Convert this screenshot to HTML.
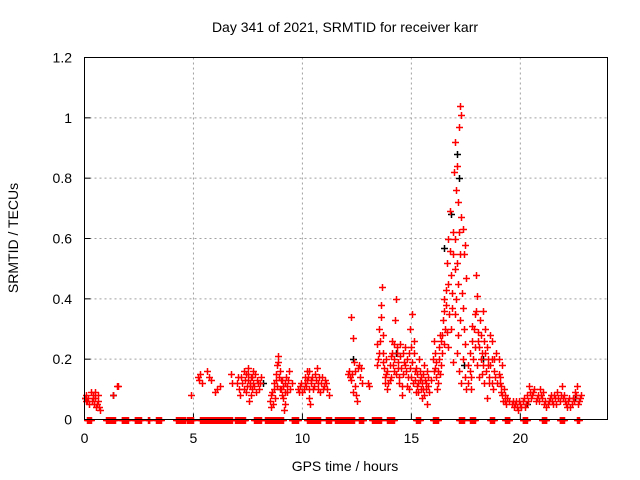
<!DOCTYPE html>
<html><head><meta charset="utf-8"><style>
body{margin:0;background:#fff;}
svg{display:block;font-family:"Liberation Sans",sans-serif;}
</style></head><body>
<svg id="chart" width="640" height="480" viewBox="0 0 640 480">
<text x="345" y="32" font-size="14" text-anchor="middle">Day 341 of 2021, SRMTID for receiver karr</text>
<text x="345" y="471" font-size="14" text-anchor="middle">GPS time / hours</text>
<text transform="translate(18,238) rotate(-90)" font-size="14" text-anchor="middle">SRMTID / TECUs</text>
<g id="grid"></g>
<g id="ticks"></g>
<g id="black"></g>
<g id="red"></g>
<rect x="84.5" y="57.5" width="523" height="362" fill="none" stroke="#000" stroke-width="1"/>
</svg>
<script>
const xTicks=[0,5,10,15,20];
const yTicks=[0,0.2,0.4,0.6,0.8,1,1.2];
const yTickLabels=["0","0.2","0.4","0.6","0.8","1","1.2"];
const redT=[0.0,0.05,0.1,0.15,0.3,0.35,0.4,0.45,0.5,0.55,0.6,0.65,0.7,1.3,1.5,1.55,
4.9,5.2,5.25,5.3,5.4,5.6,5.7,5.8,6.0,6.1,6.2,6.7,6.75,
7.0,7.1,7.2,7.3,7.35,7.4,7.5,7.6,7.65,7.7,7.8,7.9,8.0,8.1,7.45,7.55,7.75,
8.5,8.55,8.6,8.7,8.75,8.8,8.85,8.9,8.95,9.0,9.05,9.1,9.2,9.25,9.3,9.4,9.5,8.65,9.15,
9.8,9.9,10.0,10.1,10.2,10.25,10.3,10.4,10.5,10.6,10.7,10.8,10.9,11.0,11.1,11.2,10.35,10.65,
12.1,12.2,12.25,12.3,12.35,12.4,12.45,12.5,12.6,12.7,12.75,13.0,13.05,
13.4,13.45,13.5,13.6,13.65,13.7,13.75,13.8,13.85,13.9,14.0,14.05,14.1,14.15,14.2,14.25,14.3,14.35,14.4,14.45,14.5,14.55,14.6,14.65,
14.7,14.8,14.9,14.95,15.0,15.05,15.1,15.15,15.2,15.3,15.35,15.4,15.5,15.55,15.6,15.65,15.7,15.75,15.8,
15.9,16.0,16.05,16.1,16.2,16.25,16.3,16.4,16.45,16.5,16.55,16.6,16.65,16.7,16.75,16.8,16.85,16.9,16.95,17.0,17.05,17.1,17.15,17.2,17.25,17.28,17.3,17.35,17.4,17.45,17.5,17.05,17.15,17.25,17.35,17.45,17.5,16.7,16.9,17.0,
17.6,17.7,17.8,17.9,17.95,18.0,18.05,18.1,18.15,18.2,18.25,18.3,18.35,18.4,18.5,18.55,18.6,18.7,18.75,18.8,17.75,18.45,
18.9,19.0,19.05,19.1,19.15,19.2,19.3,19.35,19.4,19.5,
19.6,19.7,19.8,19.9,20.0,20.1,20.2,20.3,20.4,20.5,20.6,20.7,20.8,20.9,21.0,21.1,21.2,21.3,21.4,21.5,21.6,21.7,21.8,21.9,22.0,22.1,22.2,22.3,22.4,22.5,22.6,22.7,22.8,
0.08,0.2,0.38,0.48,0.58,0.62,
7.05,7.15,7.25,7.32,7.42,7.48,7.52,7.58,7.62,7.68,7.72,7.82,7.88,7.95,8.05,
8.58,8.68,8.78,8.82,8.88,8.92,8.98,9.02,9.08,9.12,9.18,9.22,9.28,9.35,9.45,
9.85,9.95,10.05,10.12,10.18,10.22,10.28,10.32,10.38,10.45,10.55,10.62,10.72,10.78,10.85,10.95,11.05,11.15,
12.15,12.22,12.28,12.32,12.42,12.55,12.65,
13.42,13.52,13.55,13.62,13.68,13.72,13.78,13.82,13.88,13.95,14.02,14.08,14.12,14.18,14.22,14.28,14.32,14.38,14.42,14.48,14.52,14.58,14.62,
14.72,14.75,14.82,14.85,14.88,14.92,14.98,15.02,15.08,15.12,15.18,15.22,15.25,15.28,15.32,15.38,15.42,15.45,15.48,15.52,15.58,15.62,15.68,15.72,15.78,
16.02,16.08,16.12,16.15,16.18,16.22,16.28,16.32,16.35,16.38,16.42,16.48,16.52,16.58,16.62,16.68,16.72,16.78,16.82,16.88,16.92,16.98,17.02,17.08,17.12,17.18,17.22,17.32,17.38,17.42,17.48,17.08,17.18,17.28,
17.62,17.68,17.72,17.78,17.82,17.88,17.92,17.98,18.02,18.08,18.12,18.18,18.22,18.28,18.32,18.38,18.42,18.48,18.52,18.58,18.62,18.68,18.72,18.78,18.85,
18.95,19.02,19.08,19.12,19.18,19.25,19.28,
19.65,19.75,19.85,19.95,20.05,20.15,20.25,20.35,20.45,20.55,20.65,20.75,20.85,20.95,21.05,21.15,21.25,21.35,21.45,21.55,21.65,21.75,21.85,21.95,22.05,22.15,22.25,22.35,22.45,22.55,22.65,22.75];
const redV=[.07,.08,.06,.07,.09,.06,.08,.05,.07,.04,.06,.04,.03,.08,.11,.11,
.08,.14,.13,.15,.12,.16,.14,.13,.09,.10,.11,.15,.12,
.12,.10,.14,.16,.13,.09,.15,.12,.08,.14,.11,.13,.10,.14,.11,.06,.16,
.06,.04,.09,.12,.07,.15,.18,.21,.10,.13,.08,.11,.05,.14,.09,.16,.12,.05,.03,
.10,.11,.09,.12,.16,.14,.07,.13,.10,.15,.12,.09,.14,.11,.12,.08,.05,.17,
.15,.14,.34,.27,.19,.11,.08,.06,.18,.17,.12,.12,.11,
.25,.20,.30,.38,.44,.22,.17,.12,.15,.10,.13,.21,.26,.18,.16,.33,.40,.22,.17,.12,.25,.08,.15,.19,
.18,.11,.22,.30,.14,.35,.26,.16,.09,.12,.20,.13,.07,.10,.18,.12,.05,.14,.09,
.13,.20,.26,.17,.12,.24,.28,.22,.33,.40,.30,.43,.52,.60,.69,.48,.37,.55,.82,.92,.76,.84,.72,.97,1.04,1.01,.67,.63,.55,.58,.47,.40,.28,.33,.20,.14,.10,.24,.19,.35,
.12,.16,.31,.35,.48,.41,.29,.24,.33,.20,.15,.36,.26,.22,.18,.12,.28,.20,.10,.16,.10,.07,
.22,.15,.12,.09,.18,.06,.08,.05,.07,.06,
.05,.04,.06,.03,.05,.06,.04,.08,.11,.07,.09,.06,.08,.10,.07,.05,.04,.06,.08,.05,.07,.09,.06,.11,.08,.05,.06,.04,.07,.09,.11,.06,.08,
.06,.05,.07,.09,.05,.08,
.14,.08,.12,.10,.15,.13,.17,.11,.14,.10,.12,.15,.09,.12,.12,
.08,.10,.13,.11,.19,.14,.16,.10,.13,.07,.12,.09,.11,.13,.10,
.09,.12,.10,.14,.11,.13,.10,.16,.12,.14,.11,.13,.10,.14,.12,.10,.13,.10,
.16,.13,.15,.09,.16,.17,.14,
.18,.22,.26,.34,.28,.19,.14,.20,.16,.12,.18,.14,.22,.25,.20,.15,.24,.19,.14,.21,.17,.11,.22,
.24,.16,.20,.14,.10,.17,.24,.19,.12,.22,.13,.17,.11,.15,.09,.16,.10,.14,.12,.15,.08,.13,.10,.16,.11,
.16,.22,.14,.19,.10,.16,.20,.15,.26,.18,.28,.36,.25,.38,.29,.45,.35,.56,.30,.42,.62,.50,.60,.52,.45,.62,.55,.42,.37,.30,.25,.22,.16,.12,
.18,.22,.14,.26,.20,.30,.24,.36,.18,.26,.14,.28,.22,.18,.12,.30,.16,.24,.20,.14,.18,.26,.12,.20,.14,
.12,.20,.14,.11,.08,.10,.06,
.06,.05,.04,.06,.04,.07,.05,.06,.09,.08,.10,.07,.06,.08,.09,.06,.05,.07,.06,.08,.05,.07,.08,.07,.06,.04,.07,.05,.06,.08,.05,.07];
const blackT=[0.02,1.3,8.2,12.3,14.3,16.5,16.8,17.1,17.2,17.4,18.3,20.3,22.5];
const blackV=[.07,.08,.12,.20,.22,.57,.68,.88,.80,.18,.20,.05,.07];
const zeroStart=[0.1,1.0,1.7,2.3,2.9,3.3,4.2,4.7,5.3,6.9,7.8,8.3,9.5,10.2,11.1,11.5,12.6,13.2,13.9,15.2,16.0,17.2,17.7,18.6,19.3,20.1,21.0,21.8,22.6];
const zeroEnd=[0.3,1.4,2.0,2.6,3.0,3.5,4.6,5.0,6.8,7.4,8.1,9.1,9.8,10.8,11.3,12.4,12.8,13.6,14.2,15.4,16.2,17.4,17.9,18.8,19.5,20.3,21.2,22.0,22.7];

const X0=84.5,X1=607.5,Y0=419.5,Y1=57.5;
const xS=t=>X0+t/24*(X1-X0);
const yS=v=>Y0-v/1.2*(Y0-Y1);
const NS="http://www.w3.org/2000/svg";
const grid=document.getElementById('grid'),ticks=document.getElementById('ticks');
function mk(tag,parent){const e=document.createElementNS(NS,tag);parent.appendChild(e);return e;}
xTicks.forEach(t=>{
  const x=xS(t);
  if(t>0){const l=mk('line',grid);l.setAttribute('x1',x);l.setAttribute('x2',x);l.setAttribute('y1',Y1);l.setAttribute('y2',Y0);l.setAttribute('stroke','#a0a0a0');l.setAttribute('stroke-dasharray','2,3');
  
  }
  const k=mk('line',grid);k.setAttribute('x1',x);k.setAttribute('x2',x);k.setAttribute('y1',Y0);k.setAttribute('y2',Y0-6);k.setAttribute('stroke','#000');
  const tx=mk('text',ticks);tx.setAttribute('x',x);tx.setAttribute('y',443);tx.setAttribute('font-size','14');tx.setAttribute('text-anchor','middle');tx.textContent=t;
  
  
});
yTicks.forEach((v,i)=>{
  const y=yS(v);
  if(v>0&&v<1.2){const l=mk('line',grid);l.setAttribute('x1',X0);l.setAttribute('x2',X1);l.setAttribute('y1',y);l.setAttribute('y2',y);l.setAttribute('stroke','#a0a0a0');l.setAttribute('stroke-dasharray','2,3');
  
  }
  const k=mk('line',grid);k.setAttribute('x1',X0);k.setAttribute('x2',X0+6);k.setAttribute('y1',y);k.setAttribute('y2',y);k.setAttribute('stroke','#000');
  const tx=mk('text',ticks);tx.setAttribute('x',72);tx.setAttribute('y',y+5);tx.setAttribute('font-size','14');tx.setAttribute('text-anchor','end');tx.textContent=yTickLabels[i];
  
  
});
function plus(g,t,v,c){
  const x=Math.round(xS(t))+0.5,y=Math.round(yS(v))+0.5;
  const p=mk('path',g);p.setAttribute('d',`M${x-3.5},${y}H${x+3.5}M${x},${y-3.5}V${y+3.5}`);p.setAttribute('stroke',c);p.setAttribute('stroke-width','1.5');
  
  
}
const bg=document.getElementById('black'),rg=document.getElementById('red');
blackT.forEach((t,i)=>plus(bg,t,blackV[i],'#000'));
redT.forEach((t,i)=>plus(rg,t,redV[i],'#ff0000'));
zeroStart.forEach((s,i)=>{for(let t=s;t<=zeroEnd[i]+1e-6;t+=0.04)plus(rg,t,0,'#ff0000');});
</script>
</body></html>
